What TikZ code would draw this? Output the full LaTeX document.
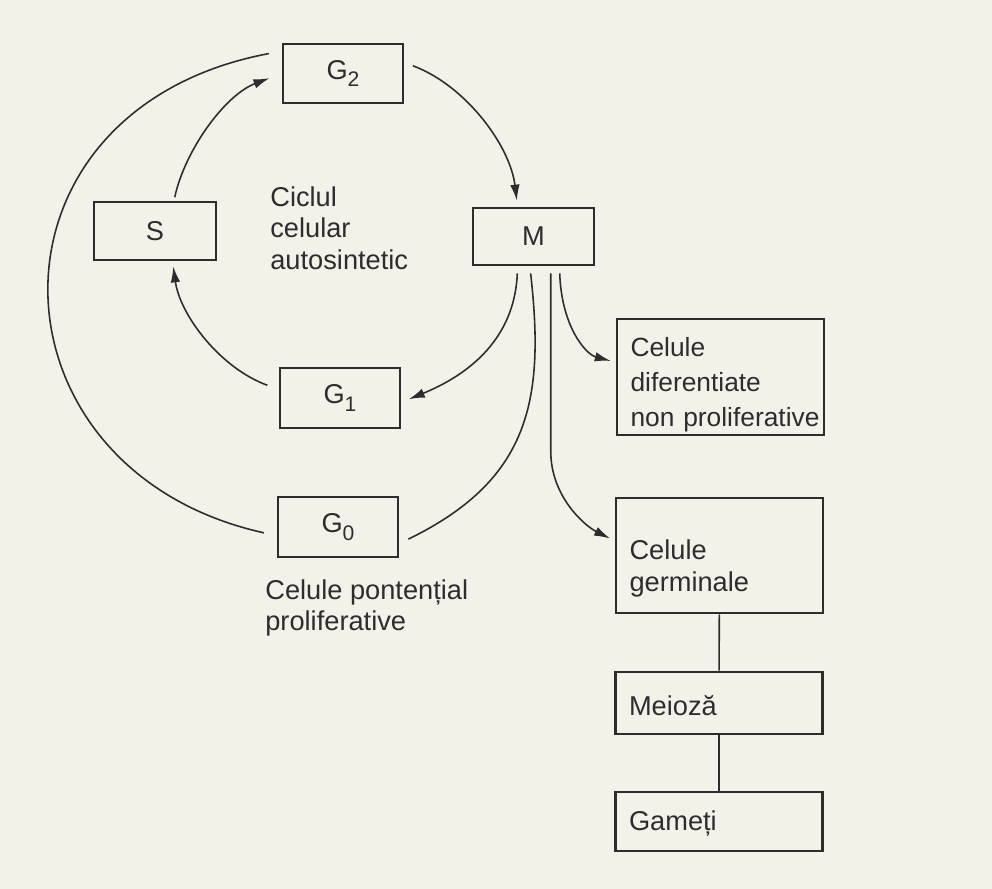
\documentclass[tikz,border=0pt]{standalone}
\usepackage{fontspec}
\setmainfont{Liberation Sans}
\usetikzlibrary{arrows.meta}
\definecolor{paper}{RGB}{244,241,233}
\definecolor{ink}{RGB}{45,45,45}
\newcommand{\phase}[1]{G\raisebox{-0.5ex}{\fontsize{12}{12}\selectfont #1}}

\begin{document}
\begin{tikzpicture}[x=0.02cm,y=-0.02cm,font=\fontsize{15.5}{18}\selectfont,text=ink,
    box/.style={draw=ink,line width=1.6pt,minimum width=2.4cm,minimum height=1.18cm,inner sep=0pt},
    bigbox/.style={draw=ink,line width=1.6pt,text width=3.6cm,inner xsep=0.27cm,inner ysep=0pt,align=left},
    link/.style={draw=ink,line width=0.9pt},
    arr/.style={link,-{Latex[length=3.2mm,width=1.9mm]}}] % ciclul celular si iesirile din M
  \fill[paper] (0,0) rectangle (992,889);
  \useasboundingbox (0,0) rectangle (992,889);
  \node[box] (G2) at (343,73.5) {\phase{2}};
  \node[box,minimum width=2.44cm,minimum height=1.16cm] (S) at (155,231) {S};
  \node[box,minimum width=2.42cm,minimum height=1.14cm] (M) at (533.5,236.5) {M};
  \node[box,minimum height=1.2cm] (G1) at (340,398) {\phase{1}};
  \node[box,minimum height=1.2cm] (G0) at (338,527) {\phase{0}};
  \node[align=left,inner sep=0pt,anchor=north west] (cycle) at (270,186) {Ciclul\\celular\\autosintetic};
  \node[align=left,inner sep=0pt,anchor=north west] (pool) at (265,579) {Celule pontențial\\proliferative};
  \node[bigbox,minimum height=2.32cm,font=\fontsize{15}{20}\selectfont] (dif) at (720.5,377)
    {\rule{0pt}{20pt}Celule\\diferentiate\\\mbox{non proliferative}};
  \node[bigbox,minimum height=2.3cm] (germ) at (719.5,555.5) {\rule{0pt}{26pt}Celule\\germinale};
  \node[bigbox,minimum height=1.24cm] (meioza) at (719,703) {\rule{0pt}{14pt}Meioză};
  \node[bigbox,minimum height=1.18cm] (gameti) at (719,821.5) {\rule{0pt}{14pt}Gameți};
  % ciclul
  \draw[arr,shorten <=2pt,shorten >=0.26cm] (S.58) .. controls (185,150) and (225,95) .. (G2.west);
  \draw[arr,shorten <=0.18cm,shorten >=0.12cm] (G2.10) .. controls (465,85) and (510,145) .. (M.118);
  \draw[arr,shorten <=0.14cm,shorten >=0.16cm] (M.242) .. controls (515,330) and (480,370) .. (G1.356);
  \draw[arr,shorten <=0.24cm,shorten >=0.1cm] (G1.172) .. controls (220,368) and (180,315) .. (S.300);
  % G0
  \draw[link,shorten <=0.14cm,shorten >=0.2cm] (M.263) .. controls (545,400) and (530,480) .. (G0.345);
  \draw[link,shorten <=0.26cm,shorten >=0.26cm] (G0.188) .. controls (-20,470) and (-30,110) .. (G2.160);
  % iesiri
  \draw[arr,shorten <=0.14cm,shorten >=0.1cm] (M.311) .. controls +(2,60) and +(-30,-8) .. (dif.172);
  \draw[arr,shorten <=0.14cm,shorten >=0.1cm] (M.300) -- ++(0,185) .. controls +(0,45) and +(-30,-15) .. (germ.172);
  \draw[link] (germ) -- (meioza);
  \draw[link] (meioza) -- (gameti);
\end{tikzpicture}
\end{document}
